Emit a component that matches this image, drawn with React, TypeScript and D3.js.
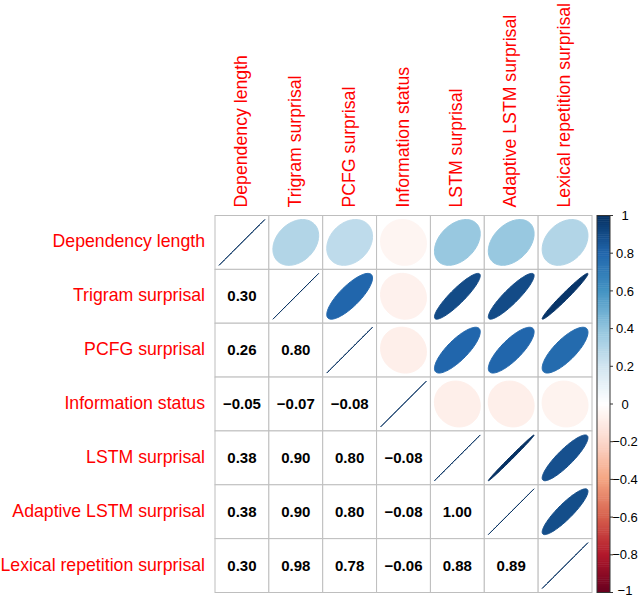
import React from 'react';
import * as d3 from 'd3';

// variable names, in matrix order
const variables = [
  'Dependency length',
  'Trigram surprisal',
  'PCFG surprisal',
  'Information status',
  'LSTM surprisal',
  'Adaptive LSTM surprisal',
  'Lexical repetition surprisal',
];

// lower triangle of the correlation matrix, one row per variable
const lowerRows: number[][] = [
  [],
  [0.30],
  [0.26, 0.80],
  [-0.05, -0.07, -0.08],
  [0.38, 0.90, 0.80, -0.08],
  [0.38, 0.90, 0.80, -0.08, 0.996],
  [0.30, 0.98, 0.78, -0.06, 0.88, 0.89],
];

const legendTicks = [1, 0.8, 0.6, 0.4, 0.2, 0, -0.2, -0.4, -0.6, -0.8, -1];

// RdBu palette used by corrplot (COL2)
const rdbu = ['#67001F', '#B2182B', '#D6604D', '#F4A582', '#FCD7CB', '#FFFFFF',
  '#D1E5F0', '#92C5DE', '#4393C3', '#2166AC', '#053061'];

const W = 640;
const H = 596;
const FONT = '"Liberation Sans", Arial, Helvetica, sans-serif';

const gridLeft = 215;
const gridTop = 215.5;
const gridSize = 377;

const corr = (i: number, j: number) => {
  if (i === j) return 1;
  return i > j ? lowerRows[i][j] : lowerRows[j][i];
};

const fmt = (v: number) => {
  const s = v.toFixed(2);
  return s.startsWith('-') ? '\u2212' + s.slice(1) : s;
};
const fmtTick = (v: number) => {
  const s = d3.format('~g')(Math.round(v * 10) / 10);
  return s.replace('-', '\u2212');
};

const App: React.FC = () => {
  const x = d3.scaleBand<string>().domain(variables).range([gridLeft, gridLeft + gridSize]);
  const y = d3.scaleBand<string>().domain(variables).range([gridTop, gridTop + gridSize]);
  const cell = x.bandwidth();

  const color = d3.scaleLinear<string>()
    .domain(d3.range(11).map(i => -1 + i * 0.2))
    .range(rdbu)
    .interpolate(d3.interpolateRgb)
    .clamp(true);

  // ellipse as in corrplot: cos(k +/- acos(r)/2) / 2, scaled by 0.85
  const ellipse = (r: number) => {
    const a = Math.acos(Math.max(-1, Math.min(1, r)));
    const pts: [number, number][] = d3.range(99).map(i => {
      const k = (i / 98) * 2 * Math.PI;
      return [
        0.85 * Math.cos(k + a / 2) / 2 * cell,
        -0.85 * Math.cos(k - a / 2) / 2 * cell,
      ];
    });
    return d3.line()(pts) + 'Z';
  };

  // colour legend
  const barLeft = 597;
  const barWidth = 13;
  const ly = d3.scaleLinear().domain([1, -1]).range([gridTop, gridTop + gridSize]);
  const steps = 200;
  const stepH = gridSize / steps;

  const cells: React.ReactNode[] = [];
  variables.forEach((rv, i) => {
    variables.forEach((cv, j) => {
      const cx = (x(cv) as number) + cell / 2;
      const cy = (y(rv) as number) + cell / 2;
      const r = corr(i, j);
      cells.push(
        <rect key={`g${i}-${j}`} x={x(cv)} y={y(rv)} width={cell} height={cell}
          fill="white" stroke="#BEBEBE" strokeWidth={1} />
      );
      if (i > j) {
        cells.push(
          <text key={`t${i}-${j}`} x={cx} y={cy + 5.2} textAnchor="middle"
            fontFamily={FONT} fontWeight="bold" fontSize={15} fill="black">
            {fmt(r)}
          </text>
        );
      } else {
        const c = color(r);
        cells.push(
          <path key={`e${i}-${j}`} d={ellipse(r)} transform={`translate(${cx},${cy})`}
            fill={c} stroke={c} strokeWidth={1} />
        );
      }
    });
  });

  return (
    <svg width={W} height={H} viewBox={`0 0 ${W} ${H}`}
      style={{ position: 'absolute', left: 0, top: 0, background: 'white' }}>
      <g>{cells}</g>
      {variables.map(v => (
        <text key={`r-${v}`} x={gridLeft - 10} y={(y(v) as number) + cell / 2 + 5}
          textAnchor="end" fontFamily={FONT} fontSize={17.7} fill="red">{v}</text>
      ))}
      {variables.map(v => {
        const tx = (x(v) as number) + cell / 2 + 5;
        const ty = gridTop - 8;
        return (
          <text key={`c-${v}`} transform={`translate(${tx},${ty}) rotate(-90)`}
            textAnchor="start" fontFamily={FONT} fontSize={17.7} fill="red">{v}</text>
        );
      })}
      <g>
        {d3.range(steps).map(i => {
          const v = 1 - (i + 0.5) * (2 / steps);
          return (
            <rect key={`b${i}`} x={barLeft} y={gridTop + i * stepH} width={barWidth}
              height={stepH + 0.5} fill={color(v)} />
          );
        })}
        <rect x={barLeft} y={gridTop} width={barWidth} height={gridSize}
          fill="none" stroke="#333" strokeWidth={1} />
        {legendTicks.map(t => (
          <g key={`lt${t}`}>
            <line x1={barLeft + barWidth} x2={barLeft + barWidth + 3} y1={ly(t)} y2={ly(t)}
              stroke="#333" strokeWidth={1} />
            <text x={625} y={Math.min(ly(t) + 4.6, H - 1.5)} textAnchor="middle" fontFamily={FONT}
              fontSize={13} fill="black">{fmtTick(t)}</text>
          </g>
        ))}
      </g>
    </svg>
  );
};

export default App;
